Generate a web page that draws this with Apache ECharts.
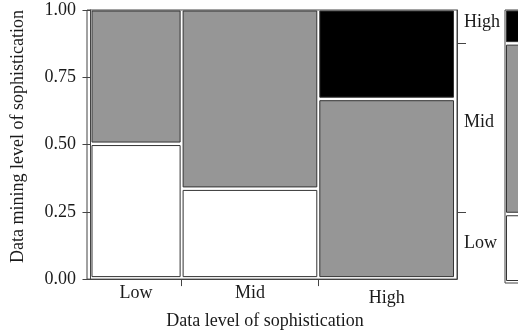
<!DOCTYPE html>
<html>
<head>
<meta charset="utf-8">
<script src="https://cdn.jsdelivr.net/npm/echarts@6/dist/echarts.min.js"></script>
<style>
html,body{margin:0;padding:0;background:#fff;}
#chart{width:518px;height:335px;}
</style>
</head>
<body>
<div id="chart"></div>
<script>
// ---- data ----
const xCategories = ['Low', 'Mid', 'High'];          // Data level of sophistication
const yCategories = ['Low', 'Mid', 'High'];          // Data mining level of sophistication
const columnShare = [0.25, 0.375, 0.375];            // width of each column
const lowShare    = [0.5, 0.3333, 0];                // share of "Low" inside each column
const midShare    = [0.5, 0.6667, 0.6667];           // share of "Mid"
const highShare   = [0, 0, 0.3333];                  // share of "High"
const marginalShare = [0.25, 0.625, 0.125];          // overall Low / Mid / High
const yTickValues = [0, 0.25, 0.5, 0.75, 1];
const cellColors = ['#ffffff', '#969696', '#000000'];

const FONT = 'Liberation Serif';
const FS = 18;
const TXT = '#1a1a1a';
const LINE = '#444444';

// build mosaic cells
const shares = [lowShare, midShare, highShare];
const cells = [];
let cx = 0;
columnShare.forEach((w, i) => {
  let cy = 0;
  shares.forEach((s, k) => {
    const h = s[i];
    if (h > 0) cells.push([cx, cx + w, cy, cy + h, k]);
    cy += h;
  });
  cx += w;
});
const margCells = [];
let my = 0;
marginalShare.forEach((h, k) => { margCells.push([0, 1, my, my + h, k]); my += h; });

// axis helper positions
const colCenters = [], colBounds = [];
let acc = 0;
columnShare.forEach((w, i) => { colCenters.push(acc + w / 2); acc += w; if (i < columnShare.length - 1) colBounds.push(acc); });
const margCenters = [], margBounds = [];
acc = 0;
marginalShare.forEach((h, i) => { margCenters.push(acc + h / 2); acc += h; if (i < marginalShare.length - 1) margBounds.push(acc); });

function nearestIndex(v, centers) {
  let best = 0, d = Infinity;
  centers.forEach((c, i) => { if (Math.abs(c - v) < d) { d = Math.abs(c - v); best = i; } });
  return best;
}

function renderCell(params, api) {
  const p0 = api.coord([api.value(0), api.value(2)]);
  const p1 = api.coord([api.value(1), api.value(3)]);
  const x0 = p0[0] + 1.5, x1 = p1[0] - 1.5;
  const yb = p0[1] - 2.5, yt = p1[1] + 1;
  return {
    type: 'rect',
    shape: { x: x0, y: yt, width: x1 - x0, height: yb - yt },
    style: { fill: cellColors[api.value(4)], stroke: '#333333', lineWidth: 1 }
  };
}

const chart = echarts.init(document.getElementById('chart'), null, { renderer: 'canvas' });
chart.setOption({
  animation: false,
  backgroundColor: '#ffffff',
  textStyle: { fontFamily: FONT },
  grid: [
    { left: 87, right: 61, top: 10, bottom: 52, show: true, borderColor: LINE, borderWidth: 1, backgroundColor: 'transparent' },
    { left: 505, right: -120, top: 10, bottom: 52, show: true, borderColor: LINE, borderWidth: 1, backgroundColor: 'transparent' }
  ],
  xAxis: [
    {
      gridIndex: 0, type: 'value', min: -0.0096, max: 1.0055,
      name: 'Data level of sophistication', nameLocation: 'middle', nameGap: 32,
      nameTextStyle: { fontFamily: FONT, fontSize: FS, color: TXT, padding: [0, 14, 0, 0] },
      axisLine: { show: true, lineStyle: { color: LINE } },
      splitLine: { show: false },
      axisTick: { show: true, length: 7, lineStyle: { color: LINE }, customValues: colBounds },
      axisLabel: {
        show: true, margin: 5, fontFamily: FONT, fontSize: FS, color: TXT,
        customValues: colCenters,
        formatter: v => {
          const n = xCategories[nearestIndex(v, colCenters)];
          return n === 'High' ? '{d|' + n + '}' : n;
        },
        rich: { d: { fontFamily: FONT, fontSize: FS, color: TXT, padding: [5, 0, 0, 0] } }
      }
    },
    { gridIndex: 1, type: 'value', min: 0, max: 0.25, show: false }
  ],
  yAxis: [
    {
      gridIndex: 0, type: 'value', min: 0, max: 1, interval: 0.25,
      name: 'Data mining level of sophistication', nameLocation: 'middle', nameGap: 60,
      nameTextStyle: { fontFamily: FONT, fontSize: FS, color: TXT, padding: [0, 0, 0, 16] },
      axisLine: { show: true, lineStyle: { color: LINE } },
      splitLine: { show: false },
      axisTick: { show: true, length: 8, lineStyle: { color: LINE }, customValues: yTickValues },
      axisLabel: { margin: 11, fontFamily: FONT, fontSize: FS, color: TXT, customValues: yTickValues, formatter: v => v.toFixed(2) }
    },
    {
      gridIndex: 0, type: 'value', min: 0, max: 1, position: 'right',
      axisLine: { show: true, lineStyle: { color: LINE } },
      splitLine: { show: false },
      axisTick: { show: true, length: 9, lineStyle: { color: LINE }, customValues: margBounds },
      axisLabel: {
        margin: 7, fontFamily: FONT, fontSize: FS, color: TXT,
        customValues: margCenters,
        formatter: v => {
          const i = nearestIndex(v, margCenters);
          return (i === 0 ? '{lo|' : '{up|') + yCategories[i] + '}';
        },
        rich: {
          lo: { fontFamily: FONT, fontSize: FS, color: TXT, padding: [0, 0, 4, 0] },
          up: { fontFamily: FONT, fontSize: FS, color: TXT, padding: [0, 0, 10, 0] }
        }
      }
    },
    { gridIndex: 1, type: 'value', min: 0, max: 1, show: false }
  ],
  series: [
    {
      type: 'custom', xAxisIndex: 0, yAxisIndex: 0,
      renderItem: renderCell,
      encode: { x: [0, 1], y: [2, 3] },
      data: cells, silent: true
    },
    {
      type: 'custom', xAxisIndex: 1, yAxisIndex: 2,
      renderItem: renderCell,
      encode: { x: [0, 1], y: [2, 3] },
      data: margCells, silent: true, clip: false
    }
  ]
});
</script>
</body>
</html>
